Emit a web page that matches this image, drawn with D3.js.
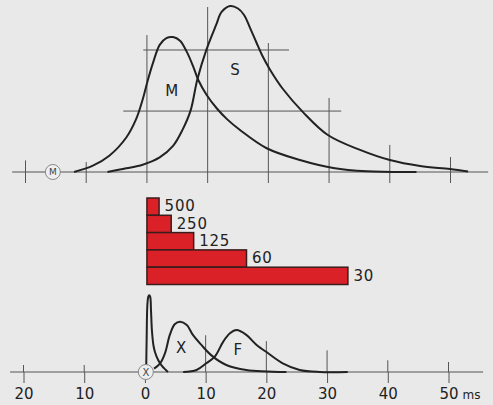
<!DOCTYPE html>
<html>
<head>
<meta charset="utf-8">
<script src="https://cdn.jsdelivr.net/npm/d3@7"></script>
<style>
  body { margin: 0; background: #e9e9e9; }
  svg { display: block; font-family: "DejaVu Sans", sans-serif; }
</style>
</head>
<body>
<div id="chart"></div>
<script>
// time axis (ms), labels shown without sign
const tickValues = [-20, -10, 0, 10, 20, 30, 40, 50];

// top panel: M and S curves [ms, amplitude]
const curveM = [[-12, 0], [-8.9, 3.8], [-6.2, 9.8], [-3.4, 20.8], [-1.8, 31.7], [-0.7, 43.7],
  [0.1, 54.7], [1.0, 65.7], [2.1, 76.6], [3.2, 80.7], [4.3, 81.3], [5.45, 79.1], [6.55, 72.5],
  [7.64, 63.4], [8.46, 55.4], [9.84, 46.4], [11.49, 38.4], [13.14, 32.0], [15.33, 25.3],
  [19.73, 14.3], [25.2, 7.2], [30.7, 2.4], [36.2, 0.4], [44.4, 0]];
const curveS = [[-6.5, 0], [-3.4, 2.2], [-0.7, 4.4], [2.1, 8.8], [4.3, 15.7], [5.9, 25.7],
  [7.2, 37.1], [8.3, 55.7], [9.8, 73.7], [11.4, 88.6], [12.3, 96.4], [13.7, 100],
  [15.0, 98.5], [16.0, 94.6], [17.0, 86.7], [18.0, 78.3], [18.95, 70.5], [20.3, 61.5],
  [22.4, 50.0], [25.7, 36.1], [29.8, 22.3], [35.1, 13.3], [40.0, 7.2], [45.0, 3.6],
  [49.9, 1.8], [52.9, 0.3]];

// bottom panel: spike, X and F curves [ms, amplitude]
const curveSpike = [[0.2, 0], [0.28, 19], [0.4, 40], [0.55, 45], [0.7, 46], [0.87, 45],
  [1.0, 37], [1.15, 25], [1.4, 16], [1.65, 12], [2.2, 7], [2.8, 3.6], [3.45, 1.2], [3.8, 0]];
const curveX = [[1.5, 2], [2.5, 5.2], [3.3, 11.2], [4.1, 22.2], [4.9, 28.6], [5.8, 30.1],
  [6.9, 28.1], [7.9, 22.2], [9.3, 16.2], [11.0, 9.8], [13.4, 4.2], [16.7, 1.2], [23.3, 0]];
const curveF = [[6.3, 0], [8.5, 1.2], [10.1, 5.2], [11.5, 9.2], [12.9, 18.2], [14.0, 23.2],
  [15.1, 25.1], [16.7, 22.2], [18.4, 16.2], [20.3, 11.2], [22.7, 5.2], [25.5, 1.2],
  [28.8, 0], [33.4, 0]];

// flicker bars: frequency label and period (ms)
const barLabels = ["500", "250", "125", "60", "30"];
const barPeriods = [2, 4, 7.7, 16.4, 33.1];

// grid line reach above the baselines (amplitude units), per tick
const topGridReach = [7, 6, 82.5, 99.4, 77.7, 44.6, 16.3, 9];
const botGridReach = [4.2, 4.2, 0, 22, 18.5, 13, 7, 6];
// horizontal guide lines in the top panel [from ms, to ms, amplitude]
const topGuides = [[-0.6, 23.4, 73.5], [-3.9, 32.0, 36.7]];

const width = 493, height = 405;
const bg = "#e9e9e9", ink = "#222", gridInk = "#555";

const svg = d3.select("#chart").append("svg")
  .attr("width", width)
  .attr("height", height);

svg.append("rect").attr("width", width).attr("height", height).attr("fill", bg);

const xTop = d3.scaleLinear().domain([-20, 50]).range([25.5, 450.5]);
const xBot = d3.scaleLinear().domain([-20, 50]).range([23.5, 448.5]);
const yTop = d3.scaleLinear().domain([0, 100]).range([172, 6]);
const yBot = d3.scaleLinear().domain([0, 100]).range([372, 205]);

const span = [-22.2, 56.2];

// ---- top panel grid ----
const topG = svg.append("g");
topG.append("line")
  .attr("x1", xTop(span[0])).attr("x2", xTop(span[1]))
  .attr("y1", yTop(0)).attr("y2", yTop(0))
  .attr("stroke", gridInk).attr("stroke-width", 1);

topG.selectAll(".vgrid").data(tickValues).enter().append("line")
  .attr("x1", d => xTop(d)).attr("x2", d => xTop(d))
  .attr("y1", (d, i) => yTop(topGridReach[i]))
  .attr("y2", yTop(0) + 11)
  .attr("stroke", gridInk).attr("stroke-width", 1);

topG.selectAll(".hgrid").data(topGuides).enter().append("line")
  .attr("x1", d => xTop(d[0])).attr("x2", d => xTop(d[1]))
  .attr("y1", d => yTop(d[2])).attr("y2", d => yTop(d[2]))
  .attr("stroke", gridInk).attr("stroke-width", 1);

const lineTop = d3.line()
  .x(d => xTop(d[0])).y(d => yTop(d[1]))
  .curve(d3.curveCatmullRom.alpha(0.5));

topG.selectAll(".curve").data([curveM, curveS]).enter().append("path")
  .attr("d", lineTop)
  .attr("fill", "none").attr("stroke", ink).attr("stroke-width", 2);

// M marker on the top axis
const mx = xTop(-15.5);
topG.append("circle").attr("cx", mx).attr("cy", yTop(0)).attr("r", 7.5)
  .attr("fill", "#efefef").attr("stroke", "#888").attr("stroke-width", 1);
topG.append("text").attr("x", mx).attr("y", yTop(0) + 3.3)
  .attr("text-anchor", "middle").attr("font-size", 9).attr("fill", "#444").text("M");

topG.append("text").attr("x", xTop(4.1)).attr("y", yTop(45.8))
  .attr("text-anchor", "middle").attr("font-size", 15).attr("fill", ink).text("M");
topG.append("text").attr("x", xTop(14.5)).attr("y", yTop(58.4))
  .attr("text-anchor", "middle").attr("font-size", 15).attr("fill", ink).text("S");

// ---- bars ----
const yBar = d3.scaleBand().domain(barLabels).range([198, 284.5]);
const bars = svg.append("g");
bars.selectAll("rect").data(barLabels).enter().append("rect")
  .attr("x", xTop(0))
  .attr("y", d => yBar(d))
  .attr("width", (d, i) => xTop(barPeriods[i]) - xTop(0))
  .attr("height", yBar.bandwidth())
  .attr("fill", "#da2128").attr("stroke", "#3a1d1d").attr("stroke-width", 1.5);
bars.selectAll("text").data(barLabels).enter().append("text")
  .attr("x", (d, i) => xTop(barPeriods[i]) + 5.5)
  .attr("y", d => yBar(d) + yBar.bandwidth() / 2 + 4.8)
  .attr("font-size", 15).attr("letter-spacing", 0.8).attr("fill", ink)
  .text(d => d);

// ---- bottom panel ----
const botG = svg.append("g");
const axis = d3.axisBottom(xBot)
  .tickValues(tickValues)
  .tickFormat(d => Math.abs(d))
  .tickSizeInner(11).tickSizeOuter(0).tickPadding(5.5);

const axisG = botG.append("g").attr("transform", `translate(0,${yBot(0)})`).call(axis);
axisG.select(".domain").remove();
axisG.selectAll(".tick line").attr("stroke", gridInk);
axisG.selectAll(".tick text")
  .attr("font-size", 15).attr("font-family", "DejaVu Sans, sans-serif").attr("fill", ink);

botG.append("line")
  .attr("x1", xBot(span[0])).attr("x2", xBot(span[1] - 0.5))
  .attr("y1", yBot(0)).attr("y2", yBot(0))
  .attr("stroke", gridInk).attr("stroke-width", 1);

botG.selectAll(".vgrid").data(tickValues).enter().append("line")
  .attr("x1", d => xBot(d)).attr("x2", d => xBot(d))
  .attr("y1", (d, i) => yBot(botGridReach[i]))
  .attr("y2", yBot(0))
  .attr("stroke", gridInk).attr("stroke-width", 1);

botG.append("text").attr("x", xBot(50) + 14).attr("y", yBot(0) + 27)
  .attr("font-size", 12).attr("fill", ink).text("ms");

const lineBot = d3.line()
  .x(d => xBot(d[0])).y(d => yBot(d[1]))
  .curve(d3.curveCatmullRom.alpha(0.5));

botG.selectAll(".curve").data([curveSpike, curveX, curveF]).enter().append("path")
  .attr("d", lineBot)
  .attr("fill", "none").attr("stroke", ink).attr("stroke-width", 2);

// X marker at time zero
botG.append("circle").attr("cx", xBot(0.15)).attr("cy", yBot(0)).attr("r", 7.5)
  .attr("fill", "#efefef").attr("stroke", "#888").attr("stroke-width", 1);
botG.append("text").attr("x", xBot(0.15)).attr("y", yBot(0) + 3.5)
  .attr("text-anchor", "middle").attr("font-size", 10).attr("fill", "#444").text("X");

botG.append("text").attr("x", xBot(5.95)).attr("y", yBot(11.4))
  .attr("text-anchor", "middle").attr("font-size", 15).attr("fill", ink).text("X");
botG.append("text").attr("x", xBot(15.3)).attr("y", yBot(10.2))
  .attr("text-anchor", "middle").attr("font-size", 15).attr("fill", ink).text("F");
</script>
</body>
</html>
